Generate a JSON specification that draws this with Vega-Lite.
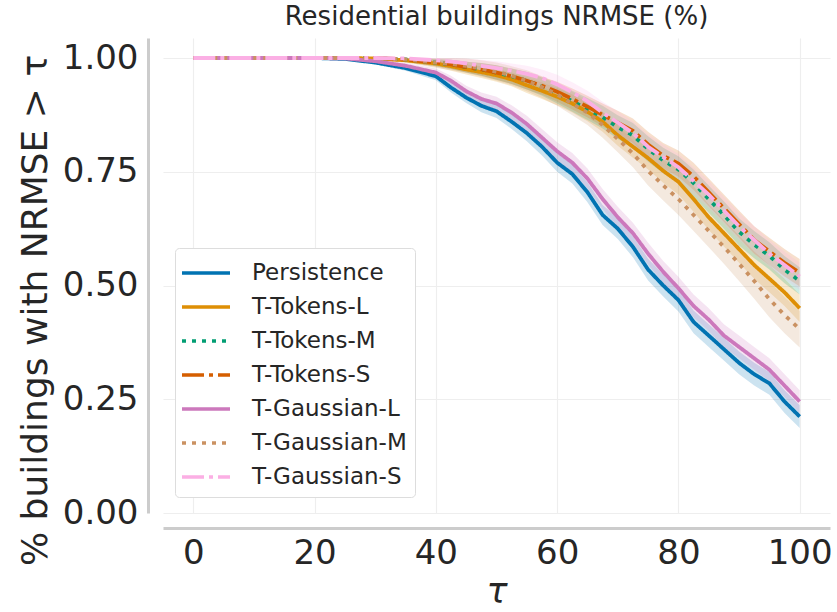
{
  "$schema": "https://vega.github.io/schema/vega-lite/v6.json",
  "width": 667,
  "height": 475,
  "autosize": {"type": "none"},
  "padding": {"left": 163, "top": 38, "right": 7, "bottom": 99},
  "title": {"text": "Residential buildings NRMSE (%)", "fontSize": 26, "fontWeight": "normal", "color": "#262626", "offset": 8},
  "config": {"font": "DejaVu Sans", "view": {"stroke": null}},
  "data": {"values": [
    {"m":"Persistence","t":0,"y":1,"lo":1,"hi":1},{"m":"Persistence","t":10,"y":1,"lo":1,"hi":1},{"m":"Persistence","t":20,"y":1,"lo":1,"hi":1},{"m":"Persistence","t":25,"y":0.998,"lo":0.996,"hi":1},{"m":"Persistence","t":30,"y":0.99,"lo":0.986,"hi":0.994},{"m":"Persistence","t":35,"y":0.978,"lo":0.972,"hi":0.984},{"m":"Persistence","t":40,"y":0.96,"lo":0.951,"hi":0.969},{"m":"Persistence","t":42.5,"y":0.935,"lo":0.924,"hi":0.946},{"m":"Persistence","t":45,"y":0.913,"lo":0.901,"hi":0.925},{"m":"Persistence","t":47.5,"y":0.895,"lo":0.881,"hi":0.909},{"m":"Persistence","t":50,"y":0.883,"lo":0.868,"hi":0.898},{"m":"Persistence","t":52.5,"y":0.86,"lo":0.844,"hi":0.876},{"m":"Persistence","t":55,"y":0.835,"lo":0.817,"hi":0.853},{"m":"Persistence","t":57.5,"y":0.805,"lo":0.786,"hi":0.824},{"m":"Persistence","t":60,"y":0.77,"lo":0.75,"hi":0.79},{"m":"Persistence","t":62.5,"y":0.745,"lo":0.724,"hi":0.766},{"m":"Persistence","t":65,"y":0.705,"lo":0.683,"hi":0.727},{"m":"Persistence","t":67.5,"y":0.655,"lo":0.633,"hi":0.677},{"m":"Persistence","t":70,"y":0.625,"lo":0.602,"hi":0.648},{"m":"Persistence","t":72.5,"y":0.585,"lo":0.562,"hi":0.608},{"m":"Persistence","t":75,"y":0.535,"lo":0.511,"hi":0.559},{"m":"Persistence","t":77.5,"y":0.5,"lo":0.476,"hi":0.524},{"m":"Persistence","t":80,"y":0.468,"lo":0.443,"hi":0.493},{"m":"Persistence","t":82.5,"y":0.42,"lo":0.395,"hi":0.445},{"m":"Persistence","t":85,"y":0.39,"lo":0.365,"hi":0.415},{"m":"Persistence","t":87.5,"y":0.36,"lo":0.335,"hi":0.385},{"m":"Persistence","t":90,"y":0.33,"lo":0.305,"hi":0.355},{"m":"Persistence","t":92.5,"y":0.305,"lo":0.28,"hi":0.33},{"m":"Persistence","t":95,"y":0.285,"lo":0.26,"hi":0.31},{"m":"Persistence","t":97.5,"y":0.245,"lo":0.22,"hi":0.27},{"m":"Persistence","t":100,"y":0.212,"lo":0.187,"hi":0.237},

    {"m":"T-Tokens-L","t":0,"y":1,"lo":1,"hi":1},{"m":"T-Tokens-L","t":10,"y":1,"lo":1,"hi":1},{"m":"T-Tokens-L","t":20,"y":1,"lo":1,"hi":1},{"m":"T-Tokens-L","t":25,"y":1,"lo":0.998,"hi":1},{"m":"T-Tokens-L","t":30,"y":0.999,"lo":0.996,"hi":1},{"m":"T-Tokens-L","t":35,"y":0.995,"lo":0.99,"hi":1},{"m":"T-Tokens-L","t":40,"y":0.988,"lo":0.98,"hi":0.996},{"m":"T-Tokens-L","t":42.5,"y":0.982,"lo":0.972,"hi":0.992},{"m":"T-Tokens-L","t":45,"y":0.975,"lo":0.964,"hi":0.986},{"m":"T-Tokens-L","t":47.5,"y":0.969,"lo":0.956,"hi":0.982},{"m":"T-Tokens-L","t":50,"y":0.962,"lo":0.948,"hi":0.976},{"m":"T-Tokens-L","t":52.5,"y":0.953,"lo":0.938,"hi":0.968},{"m":"T-Tokens-L","t":55,"y":0.94,"lo":0.923,"hi":0.957},{"m":"T-Tokens-L","t":57.5,"y":0.928,"lo":0.91,"hi":0.946},{"m":"T-Tokens-L","t":60,"y":0.915,"lo":0.896,"hi":0.934},{"m":"T-Tokens-L","t":62.5,"y":0.9,"lo":0.88,"hi":0.92},{"m":"T-Tokens-L","t":65,"y":0.882,"lo":0.861,"hi":0.903},{"m":"T-Tokens-L","t":67.5,"y":0.86,"lo":0.838,"hi":0.882},{"m":"T-Tokens-L","t":70,"y":0.83,"lo":0.807,"hi":0.853},{"m":"T-Tokens-L","t":72.5,"y":0.805,"lo":0.781,"hi":0.829},{"m":"T-Tokens-L","t":75,"y":0.78,"lo":0.755,"hi":0.805},{"m":"T-Tokens-L","t":77.5,"y":0.752,"lo":0.726,"hi":0.778},{"m":"T-Tokens-L","t":80,"y":0.728,"lo":0.7,"hi":0.756},{"m":"T-Tokens-L","t":82.5,"y":0.69,"lo":0.662,"hi":0.718},{"m":"T-Tokens-L","t":85,"y":0.65,"lo":0.622,"hi":0.678},{"m":"T-Tokens-L","t":87.5,"y":0.615,"lo":0.586,"hi":0.644},{"m":"T-Tokens-L","t":90,"y":0.58,"lo":0.55,"hi":0.61},{"m":"T-Tokens-L","t":92.5,"y":0.545,"lo":0.515,"hi":0.575},{"m":"T-Tokens-L","t":95,"y":0.515,"lo":0.485,"hi":0.545},{"m":"T-Tokens-L","t":97.5,"y":0.485,"lo":0.455,"hi":0.515},{"m":"T-Tokens-L","t":100,"y":0.45,"lo":0.42,"hi":0.48},

    {"m":"T-Tokens-M","t":0,"y":1,"lo":1,"hi":1},{"m":"T-Tokens-M","t":10,"y":1,"lo":1,"hi":1},{"m":"T-Tokens-M","t":20,"y":1,"lo":1,"hi":1},{"m":"T-Tokens-M","t":25,"y":1,"lo":0.998,"hi":1},{"m":"T-Tokens-M","t":30,"y":1,"lo":0.996,"hi":1},{"m":"T-Tokens-M","t":35,"y":0.997,"lo":0.992,"hi":1},{"m":"T-Tokens-M","t":40,"y":0.99,"lo":0.982,"hi":0.998},{"m":"T-Tokens-M","t":42.5,"y":0.986,"lo":0.976,"hi":0.996},{"m":"T-Tokens-M","t":45,"y":0.98,"lo":0.968,"hi":0.992},{"m":"T-Tokens-M","t":47.5,"y":0.975,"lo":0.961,"hi":0.989},{"m":"T-Tokens-M","t":50,"y":0.968,"lo":0.952,"hi":0.984},{"m":"T-Tokens-M","t":52.5,"y":0.96,"lo":0.943,"hi":0.977},{"m":"T-Tokens-M","t":55,"y":0.95,"lo":0.931,"hi":0.969},{"m":"T-Tokens-M","t":57.5,"y":0.937,"lo":0.917,"hi":0.957},{"m":"T-Tokens-M","t":60,"y":0.922,"lo":0.9,"hi":0.944},{"m":"T-Tokens-M","t":62.5,"y":0.905,"lo":0.882,"hi":0.928},{"m":"T-Tokens-M","t":65,"y":0.888,"lo":0.864,"hi":0.912},{"m":"T-Tokens-M","t":67.5,"y":0.87,"lo":0.845,"hi":0.895},{"m":"T-Tokens-M","t":70,"y":0.848,"lo":0.822,"hi":0.874},{"m":"T-Tokens-M","t":72.5,"y":0.83,"lo":0.803,"hi":0.857},{"m":"T-Tokens-M","t":75,"y":0.8,"lo":0.772,"hi":0.828},{"m":"T-Tokens-M","t":77.5,"y":0.775,"lo":0.747,"hi":0.803},{"m":"T-Tokens-M","t":80,"y":0.755,"lo":0.726,"hi":0.784},{"m":"T-Tokens-M","t":82.5,"y":0.725,"lo":0.695,"hi":0.755},{"m":"T-Tokens-M","t":85,"y":0.69,"lo":0.66,"hi":0.72},{"m":"T-Tokens-M","t":87.5,"y":0.655,"lo":0.625,"hi":0.685},{"m":"T-Tokens-M","t":90,"y":0.618,"lo":0.588,"hi":0.648},{"m":"T-Tokens-M","t":92.5,"y":0.59,"lo":0.56,"hi":0.62},{"m":"T-Tokens-M","t":95,"y":0.565,"lo":0.535,"hi":0.595},{"m":"T-Tokens-M","t":97.5,"y":0.535,"lo":0.505,"hi":0.565},{"m":"T-Tokens-M","t":100,"y":0.51,"lo":0.48,"hi":0.54},

    {"m":"T-Tokens-S","t":0,"y":1,"lo":1,"hi":1},{"m":"T-Tokens-S","t":10,"y":1,"lo":1,"hi":1},{"m":"T-Tokens-S","t":20,"y":1,"lo":1,"hi":1},{"m":"T-Tokens-S","t":25,"y":1,"lo":0.998,"hi":1},{"m":"T-Tokens-S","t":30,"y":1,"lo":0.996,"hi":1},{"m":"T-Tokens-S","t":35,"y":0.997,"lo":0.992,"hi":1},{"m":"T-Tokens-S","t":40,"y":0.99,"lo":0.982,"hi":0.998},{"m":"T-Tokens-S","t":42.5,"y":0.986,"lo":0.976,"hi":0.996},{"m":"T-Tokens-S","t":45,"y":0.98,"lo":0.968,"hi":0.992},{"m":"T-Tokens-S","t":47.5,"y":0.975,"lo":0.961,"hi":0.989},{"m":"T-Tokens-S","t":50,"y":0.968,"lo":0.952,"hi":0.984},{"m":"T-Tokens-S","t":52.5,"y":0.96,"lo":0.943,"hi":0.977},{"m":"T-Tokens-S","t":55,"y":0.95,"lo":0.931,"hi":0.969},{"m":"T-Tokens-S","t":57.5,"y":0.939,"lo":0.919,"hi":0.959},{"m":"T-Tokens-S","t":60,"y":0.926,"lo":0.904,"hi":0.948},{"m":"T-Tokens-S","t":62.5,"y":0.91,"lo":0.887,"hi":0.933},{"m":"T-Tokens-S","t":65,"y":0.893,"lo":0.869,"hi":0.917},{"m":"T-Tokens-S","t":67.5,"y":0.875,"lo":0.85,"hi":0.9},{"m":"T-Tokens-S","t":70,"y":0.858,"lo":0.832,"hi":0.884},{"m":"T-Tokens-S","t":72.5,"y":0.84,"lo":0.813,"hi":0.867},{"m":"T-Tokens-S","t":75,"y":0.81,"lo":0.782,"hi":0.838},{"m":"T-Tokens-S","t":77.5,"y":0.785,"lo":0.757,"hi":0.813},{"m":"T-Tokens-S","t":80,"y":0.768,"lo":0.739,"hi":0.797},{"m":"T-Tokens-S","t":82.5,"y":0.74,"lo":0.71,"hi":0.77},{"m":"T-Tokens-S","t":85,"y":0.705,"lo":0.675,"hi":0.735},{"m":"T-Tokens-S","t":87.5,"y":0.67,"lo":0.64,"hi":0.7},{"m":"T-Tokens-S","t":90,"y":0.635,"lo":0.605,"hi":0.665},{"m":"T-Tokens-S","t":92.5,"y":0.6,"lo":0.57,"hi":0.63},{"m":"T-Tokens-S","t":95,"y":0.575,"lo":0.545,"hi":0.605},{"m":"T-Tokens-S","t":97.5,"y":0.55,"lo":0.52,"hi":0.58},{"m":"T-Tokens-S","t":100,"y":0.528,"lo":0.498,"hi":0.558},

    {"m":"T-Gaussian-L","t":0,"y":1,"lo":1,"hi":1},{"m":"T-Gaussian-L","t":10,"y":1,"lo":1,"hi":1},{"m":"T-Gaussian-L","t":20,"y":1,"lo":1,"hi":1},{"m":"T-Gaussian-L","t":25,"y":0.999,"lo":0.997,"hi":1},{"m":"T-Gaussian-L","t":30,"y":0.993,"lo":0.989,"hi":0.997},{"m":"T-Gaussian-L","t":35,"y":0.983,"lo":0.977,"hi":0.989},{"m":"T-Gaussian-L","t":40,"y":0.968,"lo":0.959,"hi":0.977},{"m":"T-Gaussian-L","t":42.5,"y":0.95,"lo":0.939,"hi":0.961},{"m":"T-Gaussian-L","t":45,"y":0.927,"lo":0.915,"hi":0.939},{"m":"T-Gaussian-L","t":47.5,"y":0.91,"lo":0.896,"hi":0.924},{"m":"T-Gaussian-L","t":50,"y":0.9,"lo":0.885,"hi":0.915},{"m":"T-Gaussian-L","t":52.5,"y":0.88,"lo":0.864,"hi":0.896},{"m":"T-Gaussian-L","t":55,"y":0.855,"lo":0.837,"hi":0.873},{"m":"T-Gaussian-L","t":57.5,"y":0.825,"lo":0.806,"hi":0.844},{"m":"T-Gaussian-L","t":60,"y":0.795,"lo":0.775,"hi":0.815},{"m":"T-Gaussian-L","t":62.5,"y":0.77,"lo":0.749,"hi":0.791},{"m":"T-Gaussian-L","t":65,"y":0.735,"lo":0.713,"hi":0.757},{"m":"T-Gaussian-L","t":67.5,"y":0.69,"lo":0.668,"hi":0.712},{"m":"T-Gaussian-L","t":70,"y":0.65,"lo":0.627,"hi":0.673},{"m":"T-Gaussian-L","t":72.5,"y":0.615,"lo":0.592,"hi":0.638},{"m":"T-Gaussian-L","t":75,"y":0.57,"lo":0.546,"hi":0.594},{"m":"T-Gaussian-L","t":77.5,"y":0.53,"lo":0.506,"hi":0.554},{"m":"T-Gaussian-L","t":80,"y":0.494,"lo":0.469,"hi":0.519},{"m":"T-Gaussian-L","t":82.5,"y":0.455,"lo":0.43,"hi":0.48},{"m":"T-Gaussian-L","t":85,"y":0.425,"lo":0.4,"hi":0.45},{"m":"T-Gaussian-L","t":87.5,"y":0.39,"lo":0.365,"hi":0.415},{"m":"T-Gaussian-L","t":90,"y":0.365,"lo":0.34,"hi":0.39},{"m":"T-Gaussian-L","t":92.5,"y":0.34,"lo":0.315,"hi":0.365},{"m":"T-Gaussian-L","t":95,"y":0.315,"lo":0.29,"hi":0.34},{"m":"T-Gaussian-L","t":97.5,"y":0.28,"lo":0.255,"hi":0.305},{"m":"T-Gaussian-L","t":100,"y":0.245,"lo":0.22,"hi":0.27},

    {"m":"T-Gaussian-M","t":0,"y":1,"lo":1,"hi":1},{"m":"T-Gaussian-M","t":10,"y":1,"lo":1,"hi":1},{"m":"T-Gaussian-M","t":20,"y":1,"lo":1,"hi":1},{"m":"T-Gaussian-M","t":25,"y":1,"lo":0.997,"hi":1},{"m":"T-Gaussian-M","t":30,"y":1,"lo":0.994,"hi":1},{"m":"T-Gaussian-M","t":35,"y":0.997,"lo":0.99,"hi":1},{"m":"T-Gaussian-M","t":40,"y":0.99,"lo":0.978,"hi":1},{"m":"T-Gaussian-M","t":42.5,"y":0.987,"lo":0.973,"hi":1},{"m":"T-Gaussian-M","t":45,"y":0.983,"lo":0.967,"hi":0.999},{"m":"T-Gaussian-M","t":47.5,"y":0.977,"lo":0.959,"hi":0.995},{"m":"T-Gaussian-M","t":50,"y":0.97,"lo":0.95,"hi":0.99},{"m":"T-Gaussian-M","t":52.5,"y":0.961,"lo":0.94,"hi":0.982},{"m":"T-Gaussian-M","t":55,"y":0.95,"lo":0.927,"hi":0.973},{"m":"T-Gaussian-M","t":57.5,"y":0.936,"lo":0.912,"hi":0.96},{"m":"T-Gaussian-M","t":60,"y":0.92,"lo":0.895,"hi":0.945},{"m":"T-Gaussian-M","t":62.5,"y":0.9,"lo":0.874,"hi":0.926},{"m":"T-Gaussian-M","t":65,"y":0.88,"lo":0.853,"hi":0.907},{"m":"T-Gaussian-M","t":67.5,"y":0.853,"lo":0.825,"hi":0.881},{"m":"T-Gaussian-M","t":70,"y":0.822,"lo":0.793,"hi":0.851},{"m":"T-Gaussian-M","t":72.5,"y":0.79,"lo":0.76,"hi":0.82},{"m":"T-Gaussian-M","t":75,"y":0.752,"lo":0.72,"hi":0.784},{"m":"T-Gaussian-M","t":77.5,"y":0.72,"lo":0.687,"hi":0.753},{"m":"T-Gaussian-M","t":80,"y":0.69,"lo":0.655,"hi":0.725},{"m":"T-Gaussian-M","t":82.5,"y":0.655,"lo":0.62,"hi":0.69},{"m":"T-Gaussian-M","t":85,"y":0.62,"lo":0.584,"hi":0.656},{"m":"T-Gaussian-M","t":87.5,"y":0.585,"lo":0.548,"hi":0.622},{"m":"T-Gaussian-M","t":90,"y":0.548,"lo":0.51,"hi":0.586},{"m":"T-Gaussian-M","t":92.5,"y":0.51,"lo":0.471,"hi":0.549},{"m":"T-Gaussian-M","t":95,"y":0.47,"lo":0.43,"hi":0.51},{"m":"T-Gaussian-M","t":97.5,"y":0.435,"lo":0.395,"hi":0.475},{"m":"T-Gaussian-M","t":100,"y":0.404,"lo":0.364,"hi":0.444},

    {"m":"T-Gaussian-S","t":0,"y":1,"lo":1,"hi":1},{"m":"T-Gaussian-S","t":10,"y":1,"lo":1,"hi":1},{"m":"T-Gaussian-S","t":20,"y":1,"lo":1,"hi":1},{"m":"T-Gaussian-S","t":25,"y":1,"lo":0.999,"hi":1},{"m":"T-Gaussian-S","t":30,"y":1,"lo":0.997,"hi":1},{"m":"T-Gaussian-S","t":35,"y":0.999,"lo":0.995,"hi":1},{"m":"T-Gaussian-S","t":40,"y":0.995,"lo":0.988,"hi":1},{"m":"T-Gaussian-S","t":42.5,"y":0.992,"lo":0.983,"hi":1},{"m":"T-Gaussian-S","t":45,"y":0.988,"lo":0.977,"hi":0.999},{"m":"T-Gaussian-S","t":47.5,"y":0.983,"lo":0.97,"hi":0.996},{"m":"T-Gaussian-S","t":50,"y":0.978,"lo":0.963,"hi":0.993},{"m":"T-Gaussian-S","t":52.5,"y":0.972,"lo":0.956,"hi":0.988},{"m":"T-Gaussian-S","t":55,"y":0.965,"lo":0.947,"hi":0.983},{"m":"T-Gaussian-S","t":57.5,"y":0.956,"lo":0.937,"hi":0.975},{"m":"T-Gaussian-S","t":60,"y":0.942,"lo":0.921,"hi":0.963},{"m":"T-Gaussian-S","t":62.5,"y":0.925,"lo":0.903,"hi":0.947},{"m":"T-Gaussian-S","t":65,"y":0.905,"lo":0.882,"hi":0.928},{"m":"T-Gaussian-S","t":67.5,"y":0.88,"lo":0.856,"hi":0.904},{"m":"T-Gaussian-S","t":70,"y":0.858,"lo":0.833,"hi":0.883},{"m":"T-Gaussian-S","t":72.5,"y":0.835,"lo":0.809,"hi":0.861},{"m":"T-Gaussian-S","t":75,"y":0.805,"lo":0.778,"hi":0.832},{"m":"T-Gaussian-S","t":77.5,"y":0.782,"lo":0.754,"hi":0.81},{"m":"T-Gaussian-S","t":80,"y":0.76,"lo":0.731,"hi":0.789},{"m":"T-Gaussian-S","t":82.5,"y":0.73,"lo":0.7,"hi":0.76},{"m":"T-Gaussian-S","t":85,"y":0.7,"lo":0.67,"hi":0.73},{"m":"T-Gaussian-S","t":87.5,"y":0.665,"lo":0.635,"hi":0.695},{"m":"T-Gaussian-S","t":90,"y":0.63,"lo":0.6,"hi":0.66},{"m":"T-Gaussian-S","t":92.5,"y":0.6,"lo":0.57,"hi":0.63},{"m":"T-Gaussian-S","t":95,"y":0.57,"lo":0.54,"hi":0.6},{"m":"T-Gaussian-S","t":97.5,"y":0.545,"lo":0.515,"hi":0.575},{"m":"T-Gaussian-S","t":100,"y":0.52,"lo":0.49,"hi":0.55}
  ]},
  "layer": [
    {
      "mark": {"type": "area", "fillOpacity": 0.2},
      "encoding": {
        "x": {"field": "t", "type": "quantitative"},
        "y": {"field": "lo", "type": "quantitative"},
        "y2": {"field": "hi"},
        "color": {"field": "m", "type": "nominal"}
      }
    },
    {
      "mark": {"type": "line", "strokeWidth": 3.8, "strokeCap": "butt"},
      "encoding": {
        "x": {"field": "t", "type": "quantitative", "scale": {"domain": [-5, 105], "nice": false, "zero": false},
          "axis": {"title": "τ", "titleFontStyle": "italic", "titleFontSize": 35, "titleFontWeight": "normal", "titleColor": "#262626",
                   "labelFontSize": 34, "labelColor": "#262626", "values": [0, 20, 40, 60, 80, 100], "ticks": false,
                   "domainColor": "#cccccc", "domainWidth": 3, "offset": 15, "labelPadding": 8, "titlePadding": 4,
                   "gridColor": "#eeeeee", "gridWidth": 1.2}},
        "y": {"field": "y", "type": "quantitative", "scale": {"domain": [0, 1.044], "nice": false},
          "axis": {"title": "% buildings with NRMSE  > τ", "titleFontSize": 36, "titleFontWeight": "normal", "titleColor": "#262626",
                   "labelFontSize": 34, "labelColor": "#262626", "values": [0, 0.25, 0.5, 0.75, 1], "format": ".2f", "ticks": false,
                   "domainColor": "#cccccc", "domainWidth": 3, "offset": 15, "labelPadding": 10, "titlePadding": 8, "titleY": 272,
                   "gridColor": "#eeeeee", "gridWidth": 1.2}},
        "color": {"field": "m", "type": "nominal",
          "scale": {"domain": ["Persistence","T-Tokens-L","T-Tokens-M","T-Tokens-S","T-Gaussian-L","T-Gaussian-M","T-Gaussian-S"],
                    "range": ["#0173b2","#de8f05","#029e73","#d55e00","#cc78bc","#ca9161","#fbafe4"]},
          "legend": {"orient": "none", "legendX": 12, "legendY": 210, "title": null, "labelFontSize": 23, "labelColor": "#262626",
                     "symbolType": "M-1.6,0H1.6", "symbolSize": 900, "symbolStrokeWidth": 3.5, "symbolOpacity": 1, "symbolOffset": 6,
                     "strokeColor": "#dddddd", "fillColor": "white", "cornerRadius": 4, "padding": 8, "rowPadding": 5, "labelOffset": 29}},
        "strokeDash": {"field": "m", "type": "nominal",
          "scale": {"domain": ["Persistence","T-Tokens-L","T-Tokens-M","T-Tokens-S","T-Gaussian-L","T-Gaussian-M","T-Gaussian-S"],
                    "range": [[1,0],[1,0],[4,6],[22,5,4,5],[1,0],[4,6],[22,5,4,5]]}}
      }
    }
  ]
}
